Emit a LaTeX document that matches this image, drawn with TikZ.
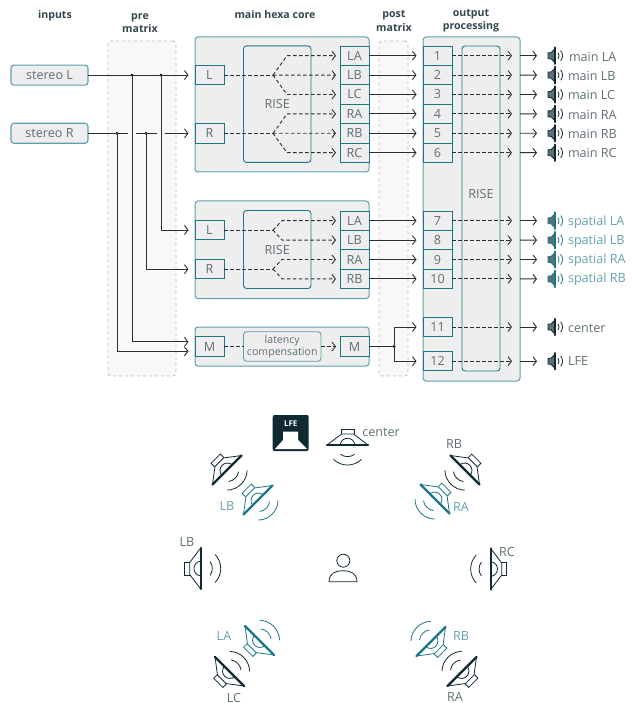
\documentclass[tikz,border=0pt]{standalone}
\usepackage{xcolor}
\usepackage{fontspec}
\setmainfont{Open Sans}
\usetikzlibrary{arrows.meta,positioning}

\definecolor{tealdark}{HTML}{1D7686}
\definecolor{teallight}{HTML}{5E9FAB}
\definecolor{tealtext}{HTML}{62A4B0}
\definecolor{panelgrey}{HTML}{EEEEEE}
\definecolor{matrixgrey}{HTML}{F8F8F8}
\definecolor{labelgrey}{HTML}{5E6F75}
\definecolor{headgrey}{HTML}{33474E}
\definecolor{navy}{HTML}{0F2A33}
\definecolor{wiregrey}{HTML}{2B2F30}

\tikzset{
    speaker/.pic={
        \draw[line width=0.8pt,fill=white] (0,-20.5) -- (-11,-6) -- (-11,6) -- (0,20.5);
        \draw[line width=0.8pt] (-11,-6.5) -- (-16,-6.5) -- (-16,6.5) -- (-11,6.5);
        \draw[line width=0.8pt] (0,-7.5) .. controls (-9,-6) and (-9,6) .. (0,7.5);
        \draw[line width=2.4pt,line cap=round] (0,-20.5) -- (0,20.5);
        \draw[line width=0.8pt] (9.3,-7) .. controls (12.4,-2.85) and (12.4,2.85) .. (9.3,7);
        \draw[line width=0.8pt] (14.4,-14) .. controls (21.9,-6.2) and (21.9,6.2) .. (14.4,14);
    },
    speakersmall/.pic={
        \draw[line width=0.8pt,fill=labelgrey] (0,-7) -- (-4,-3) -- (-7,-3) -- (-7,3) -- (-4,3) -- (0,7) -- cycle;
        \draw[line width=2pt,line cap=round] (0,-8.2) -- (0,8.2);
        \draw[line width=0.8pt] (3,-3) .. controls (4.4,-1.2) and (4.4,1.2) .. (3,3);
        \draw[line width=0.8pt] (5.6,-5.2) .. controls (8.2,-2) and (8.2,2) .. (5.6,5.2);
    }
}

\begin{document}
\begin{tikzpicture}[
    x=1pt, y=-1pt,
    every node/.style={outer sep=0pt, inner sep=0pt, font=\fontsize{12.6}{14}\selectfont, text=labelgrey},
    head/.style={align=center, text=headgrey, font=\fontsize{10.6}{13.5}\selectfont\bfseries},
    inputbox/.style={rectangle, draw=teallight, fill=panelgrey, line width=1.1pt, rounded corners=3pt, minimum width=77pt, minimum height=20pt},
    matrixbox/.style={rectangle, draw=black!25, fill=matrixgrey, dashed, line width=0.8pt, rounded corners=3pt},
    block/.style={rectangle, draw=teallight, fill=panelgrey, line width=1pt, rounded corners=3pt, minimum width=174pt},
    risebox/.style={rectangle, draw=tealdark, line width=0.9pt, rounded corners=3pt},
    cell/.style={rectangle, draw=tealdark, fill=panelgrey, line width=0.9pt, minimum width=29pt, minimum height=19.4pt},
    wire/.style={draw=wiregrey, line width=0.9pt},
    signal/.style={wire, ->, >={Straight Barb[length=3.5pt,width=9pt]}, shorten >=6.5pt},
    dashwire/.style={wire, dash pattern=on 3.5pt off 2.5pt},
    dashsignal/.style={signal, dash pattern=on 3.5pt off 2.5pt, shorten >=4pt},
    tap/.style={circle, fill=black, minimum size=3pt},
    mainlabel/.style={anchor=west},
    spatiallabel/.style={anchor=west, text=tealtext},
]
    \useasboundingbox (0,0) rectangle (634,703);

    % headings
    \node[head] (headInputs) at (55,16) {inputs};
    \node[head] (headPre) at (140,23) {pre\\matrix};
    \node[head] (headCore) at (275,14.5) {main hexa core};
    \node[head] (headPost) at (394,21) {post\\matrix};
    \node[head] (headOut) at (471,21) {output\\processing};

    % background panels
    \node[matrixbox, minimum width=68pt, minimum height=335pt] (preMatrix) at (142,208.5) {};
    \node[matrixbox, minimum width=29pt, minimum height=335pt] (postMatrix) at (393.5,208.5) {};
    \node[block, minimum height=135pt] (blockMain) at (282,104.5) {};
    \node[block, minimum height=97.5pt] (blockSpatial) at (282,249.75) {};
    \node[block, minimum height=39pt] (blockCenter) at (282,346.5) {};
    \node[block, minimum width=97pt, minimum height=344pt] (blockOut) at (471.5,209) {};

    % inputs
    \node[inputbox] (stereoL) at (49.5,75.1) {stereo L};
    \node[inputbox] (stereoR) at (49.5,133.3) {stereo R};

    % main hexa core
    \node[risebox, minimum width=67.5pt, minimum height=116.5pt] (riseMain) at (277.25,104.2) {RISE};
    \node[cell] (mainL) at (209.5,75.1) {L};
    \node[cell] (mainR) at (209.5,133.3) {R};
    \node[cell] (mainLA) at (354.5,55.7) {LA};
    \node[cell, below=0pt of mainLA] (mainLB) {LB};
    \node[cell, below=0pt of mainLB] (mainLC) {LC};
    \node[cell, below=0pt of mainLC] (mainRA) {RA};
    \node[cell, below=0pt of mainRA] (mainRB) {RB};
    \node[cell, below=0pt of mainRB] (mainRC) {RC};

    % spatial core
    \node[risebox, minimum width=67.5pt, minimum height=78pt] (riseSpatial) at (277.25,249.5) {RISE};
    \node[cell] (spatialL) at (209.5,230) {L};
    \node[cell] (spatialR) at (209.5,269.2) {R};
    \node[cell] (spatialLA) at (354.5,220.7) {LA};
    \node[cell, below=0pt of spatialLA] (spatialLB) {LB};
    \node[cell, below=0pt of spatialLB] (spatialRA) {RA};
    \node[cell, below=0pt of spatialRA] (spatialRB) {RB};

    % center core
    \node[cell] (monoIn) at (209.5,346.5) {M};
    \node[risebox, draw=teallight, minimum width=77.5pt, minimum height=29.5pt, align=center, font=\fontsize{10.6}{12}\selectfont] (latency) at (282.25,346.5) {latency\\compensation};
    \node[cell] (monoOut) at (354.5,346.5) {M};

    % output processing
    \node[risebox, minimum width=38pt, minimum height=325pt] (riseOut) at (481,208.5) {};
    \node (riseOutText) at (481,194) {RISE};
    \node[cell] (outA) at (437.5,55.7) {1};
    \node[cell, below=0pt of outA] (outB) {2};
    \node[cell, below=0pt of outB] (outC) {3};
    \node[cell, below=0pt of outC] (outD) {4};
    \node[cell, below=0pt of outD] (outE) {5};
    \node[cell, below=0pt of outE] (outF) {6};
    \node[cell] (outG) at (437.5,220.7) {7};
    \node[cell, below=0pt of outG] (outH) {8};
    \node[cell, below=0pt of outH] (outI) {9};
    \node[cell, below=0pt of outI] (outJ) {10};
    \node[cell] (outK) at (437.5,327) {11};
    \node[cell] (outL) at (437.5,361.2) {12};

    % speakers on the right
    \coordinate (spkA) at (555,55.7);
    \coordinate (spkB) at (555,75.1);
    \coordinate (spkC) at (555,94.5);
    \coordinate (spkD) at (555,113.9);
    \coordinate (spkE) at (555,133.3);
    \coordinate (spkF) at (555,152.7);
    \coordinate (spkG) at (555,220.7);
    \coordinate (spkH) at (555,240.1);
    \coordinate (spkI) at (555,259.5);
    \coordinate (spkJ) at (555,278.9);
    \coordinate (spkK) at (555,327);
    \coordinate (spkL) at (555,361.2);
    \pic[color=navy] at (spkA) {speakersmall};
    \pic[color=navy] at (spkB) {speakersmall};
    \pic[color=navy] at (spkC) {speakersmall};
    \pic[color=navy] at (spkD) {speakersmall};
    \pic[color=navy] at (spkE) {speakersmall};
    \pic[color=navy] at (spkF) {speakersmall};
    \pic[color=tealdark] at (spkG) {speakersmall};
    \pic[color=tealdark] at (spkH) {speakersmall};
    \pic[color=tealdark] at (spkI) {speakersmall};
    \pic[color=tealdark] at (spkJ) {speakersmall};
    \pic[color=navy] at (spkK) {speakersmall};
    \pic[color=navy] at (spkL) {speakersmall};
    \node[mainlabel] (nameA) at (569,57) {main LA};
    \node[mainlabel] (nameB) at (568,76) {main LB};
    \node[mainlabel] (nameC) at (568,95) {main LC};
    \node[mainlabel] (nameD) at (568,115) {main RA};
    \node[mainlabel] (nameE) at (568,134) {main RB};
    \node[mainlabel] (nameF) at (568,153) {main RC};
    \node[spatiallabel] (nameG) at (568,222) {spatial LA};
    \node[spatiallabel] (nameH) at (568,241) {spatial LB};
    \node[spatiallabel] (nameI) at (568,260) {spatial RA};
    \node[spatiallabel] (nameJ) at (568,279) {spatial RB};
    \node[mainlabel] (nameK) at (568,328) {center};
    \node[mainlabel] (nameL) at (568,361) {LFE};

    % pre matrix wiring
    \node[tap] (tapLa) at (132,75.1) {};
    \node[tap] (tapLb) at (161,75.1) {};
    \node[tap] (tapRa) at (117,133.3) {};
    \node[tap] (tapRb) at (146,133.3) {};
    \draw[signal] (stereoL) -- (mainL);
    \draw[wire] (stereoR) -- ([xshift=-4pt]tapLa |- stereoR);
    \draw[wire] ([xshift=4pt]tapLa |- stereoR) -- ([xshift=-4pt]tapLb |- stereoR);
    \draw[signal] ([xshift=4pt]tapLb |- stereoR) -- (mainR);
    \draw[signal] (tapLb.center) |- (spatialL);
    \draw[signal] (tapRb.center) |- (spatialR);
    \draw[signal] (tapLa.center) |- ([yshift=4.6pt]monoIn.west);
    \draw[signal] (tapRa.center) |- ([yshift=-4.8pt]monoIn.west);

    % main fan out
    \coordinate (fanL) at (273,75.1);
    \coordinate (fanR) at (273,133.3);
    \draw[dashwire] (mainL) -- (fanL);
    \draw[dashwire] (mainR) -- (fanR);
    \draw[dashsignal] (fanL) -- (287,55.7) -- (mainLA);
    \draw[dashsignal] (fanL) -- (mainLB);
    \draw[dashsignal] (fanL) -- (287,94.5) -- (mainLC);
    \draw[dashsignal] (fanR) -- (287,113.9) -- (mainRA);
    \draw[dashsignal] (fanR) -- (mainRB);
    \draw[dashsignal] (fanR) -- (287,152.7) -- (mainRC);

    % spatial fan out
    \coordinate (fanSL) at (273,230);
    \coordinate (fanSR) at (273,269.2);
    \draw[dashwire] (spatialL) -- (fanSL);
    \draw[dashwire] (spatialR) -- (fanSR);
    \draw[dashsignal] (fanSL) -- (282,220.7) -- (spatialLA);
    \draw[dashsignal] (fanSL) -- (282,240.1) -- (spatialLB);
    \draw[dashsignal] (fanSR) -- (282,259.5) -- (spatialRA);
    \draw[dashsignal] (fanSR) -- (282,278.9) -- (spatialRB);

    % center path
    \draw[dashwire] (monoIn) -- (latency);
    \draw[dashsignal] (latency) -- (monoOut);
    \node[tap] (tapOut) at (394,346.5) {};
    \draw[wire] (monoOut) -- (tapOut);
    \draw[signal] (tapOut.center) |- (outK);
    \draw[signal] (tapOut.center) |- (outL);

    % post matrix
    \draw[signal] (mainLA) -- (outA);
    \draw[signal] (mainLB) -- (outB);
    \draw[signal] (mainLC) -- (outC);
    \draw[signal] (mainRA) -- (outD);
    \draw[signal] (mainRB) -- (outE);
    \draw[signal] (mainRC) -- (outF);
    \draw[signal] (spatialLA) -- (outG);
    \draw[signal] (spatialLB) -- (outH);
    \draw[signal] (spatialRA) -- (outI);
    \draw[signal] (spatialRB) -- (outJ);

    % through RISE
    \draw[dashsignal, shorten >=8pt] (outA) -- (outA -| blockOut.east);
    \draw[dashsignal, shorten >=8pt] (outB) -- (outB -| blockOut.east);
    \draw[dashsignal, shorten >=8pt] (outC) -- (outC -| blockOut.east);
    \draw[dashsignal, shorten >=8pt] (outD) -- (outD -| blockOut.east);
    \draw[dashsignal, shorten >=8pt] (outE) -- (outE -| blockOut.east);
    \draw[dashsignal, shorten >=8pt] (outF) -- (outF -| blockOut.east);
    \draw[dashsignal, shorten >=8pt] (outG) -- (outG -| blockOut.east);
    \draw[dashsignal, shorten >=8pt] (outH) -- (outH -| blockOut.east);
    \draw[dashsignal, shorten >=8pt] (outI) -- (outI -| blockOut.east);
    \draw[dashsignal, shorten >=8pt] (outJ) -- (outJ -| blockOut.east);
    \draw[dashsignal, shorten >=8pt] (outK) -- (outK -| blockOut.east);
    \draw[dashsignal, shorten >=8pt] (outL) -- (outL -| blockOut.east);

    % to the speakers
    \draw[signal, shorten >=18pt] (outA -| blockOut.east) -- (spkA);
    \draw[signal, shorten >=18pt] (outB -| blockOut.east) -- (spkB);
    \draw[signal, shorten >=18pt] (outC -| blockOut.east) -- (spkC);
    \draw[signal, shorten >=18pt] (outD -| blockOut.east) -- (spkD);
    \draw[signal, shorten >=18pt] (outE -| blockOut.east) -- (spkE);
    \draw[signal, shorten >=18pt] (outF -| blockOut.east) -- (spkF);
    \draw[signal, shorten >=18pt] (outG -| blockOut.east) -- (spkG);
    \draw[signal, shorten >=18pt] (outH -| blockOut.east) -- (spkH);
    \draw[signal, shorten >=18pt] (outI -| blockOut.east) -- (spkI);
    \draw[signal, shorten >=18pt] (outJ -| blockOut.east) -- (spkJ);
    \draw[signal, shorten >=18pt] (outK -| blockOut.east) -- (spkK);
    \draw[signal, shorten >=18pt] (outL -| blockOut.east) -- (spkL);

    % room layout
    \node[rectangle, fill=navy, rounded corners=2pt, minimum width=36pt, minimum height=36pt] (lfeBox) at (290.7,433) {};
    \fill[white] (283,431.7) -- (298,431.7) -- (298,440) -- (307,449) -- (275,449) -- (283,440) -- cycle;
    \node[text=white, font=\fontsize{8}{9}\selectfont\bfseries] (lfeText) at (290.7,423.5) {LFE};

    \pic[color=navy, rotate=-90] at (347.5,445) {speaker};
    \pic[color=navy, rotate=225] at (465,470) {speaker};
    \pic[color=tealdark, rotate=225] at (435,499) {speaker};
    \pic[color=navy, rotate=-45] at (227,470) {speaker};
    \pic[color=tealdark, rotate=-45] at (258,500) {speaker};
    \pic[color=navy] at (200.7,568.5) {speaker};
    \pic[color=navy, rotate=180] at (490.7,569) {speaker};
    \pic[color=tealdark, rotate=45] at (259.5,640.5) {speaker};
    \pic[color=navy, rotate=45] at (229.5,671.5) {speaker};
    \pic[color=tealdark, rotate=135] at (431,641.5) {speaker};
    \pic[color=navy, rotate=135] at (462,671.5) {speaker};

    \node (roomCenter) at (381,432.5) {center};
    \node (roomRB) at (454,444) {RB};
    \node[text=tealtext] (roomSRA) at (461,507) {RA};
    \node[text=tealtext] (roomSLB) at (227,506) {LB};
    \node (roomLB) at (187,542) {LB};
    \node (roomRC) at (507,552) {RC};
    \node[text=tealtext] (roomSLA) at (224,636) {LA};
    \node[text=tealtext] (roomSRB) at (461,636) {RB};
    \node (roomLC) at (234,697.5) {LC};
    \node (roomRA) at (455,696.5) {RA};

    % listener
    \draw[navy, line width=0.8pt] (343.3,560.7) circle[radius=6.5pt];
    \draw[navy, line width=0.8pt] (329,581.7) -- (357,581.7) .. controls (357,573) and (350,570.7) .. (343,570.7) .. controls (336,570.7) and (329,573) .. (329,581.7) -- cycle;
\end{tikzpicture}
\end{document}
